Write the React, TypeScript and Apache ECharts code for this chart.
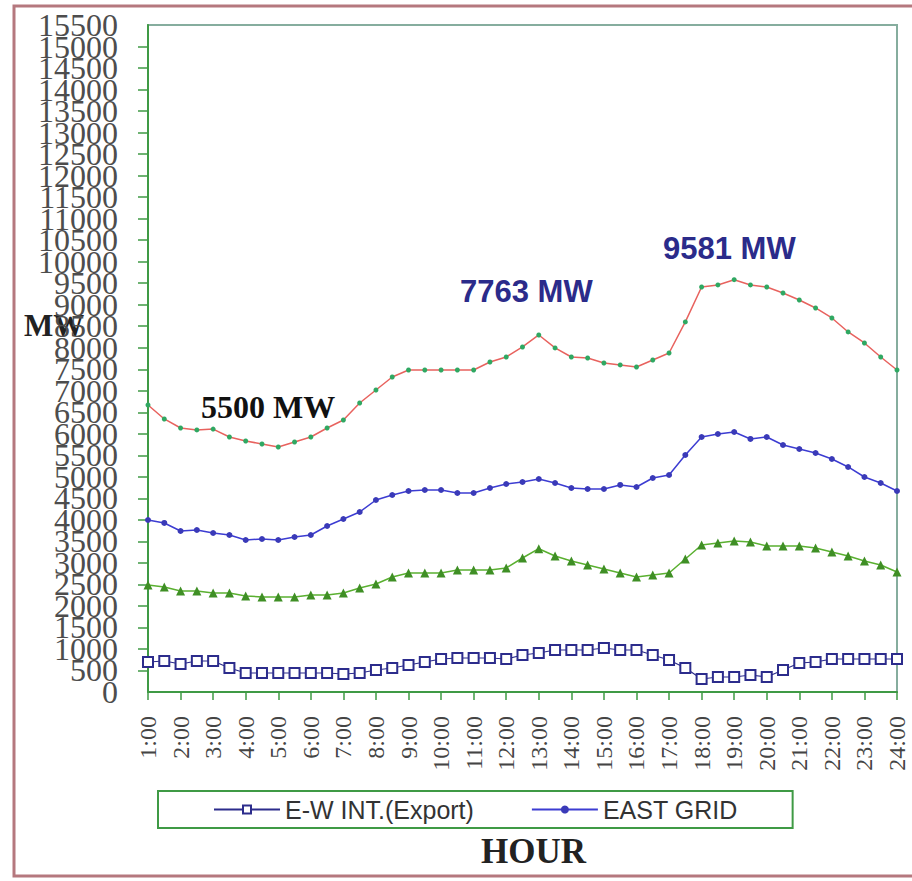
import React, { useEffect, useRef } from "react";
import * as echarts from "echarts";

// Half-hourly time slots, 1:00 .. 24:00
const hours: string[] = [];
for (let h = 1; h <= 24; h++) {
  hours.push(`${h}:00`);
  if (h < 24) hours.push(`${h}:30`);
}

// Total demand (MW)
const totalDemand = [
  6670, 6345, 6135, 6090, 6110, 5926, 5833, 5764, 5694, 5810, 5926, 6135, 6320,
  6716, 7018, 7320, 7483, 7483, 7483, 7483, 7483, 7669, 7785, 8018, 8297,
  7995, 7785, 7762, 7646, 7600, 7553, 7716, 7878, 8600, 9412, 9459, 9581,
  9459, 9412, 9273, 9110, 8924, 8692, 8367, 8111, 7785, 7483,
];

// EAST GRID (MW)
const eastGrid = [
  3997, 3928, 3742, 3765, 3695, 3649, 3532, 3556, 3532, 3602, 3649, 3858, 4020,
  4183, 4462, 4578, 4671, 4694, 4694, 4625, 4625, 4741, 4834, 4880, 4950,
  4857, 4741, 4718, 4718, 4811, 4764, 4973, 5043, 5508, 5926, 5996, 6042,
  5880, 5926, 5740, 5647, 5554, 5415, 5229, 4996, 4857, 4671,
];

// Generation (MW)
const generation = [
  2487, 2440, 2347, 2347, 2300, 2300, 2231, 2208, 2208, 2208, 2254, 2254, 2300,
  2417, 2510, 2673, 2766, 2766, 2766, 2835, 2835, 2835, 2882, 3114, 3330,
  3161, 3044, 2951, 2858, 2766, 2673, 2719, 2766, 3091, 3416, 3463, 3509,
  3486, 3393, 3393, 3393, 3347, 3254, 3161, 3044, 2951, 2789,
];

// E-W INT.(Export) (MW)
const ewExport = [
  697, 720, 650, 720, 720, 558, 442, 442, 442, 442, 442, 442, 418,
  442, 511, 558, 627, 697, 767, 790, 790, 790, 767, 860, 906,
  976, 976, 976, 1022, 976, 976, 860, 744, 558, 302, 349, 349,
  395, 349, 511, 674, 697, 767, 767, 767, 767, 767,
];

const Y_MIN = 0;
const Y_MAX = 15500;
const Y_STEP = 500;

const GREEN_AXIS = "#3f9a45";

const yLabelStyle = {
  margin: 30,
  fontFamily: "Liberation Serif, Times New Roman, serif",
  fontSize: 32,
  color: "#4d4d4d",
};

export default function App() {
  const ref = useRef<HTMLDivElement>(null);

  useEffect(() => {
    if (!ref.current) return;
    const chart = echarts.init(ref.current, undefined, { renderer: "svg" });
    chart.setOption({
      animation: false,
      backgroundColor: "#ffffff",
      grid: {
        left: 148,
        right: 15,
        top: 25,
        bottom: 189,
        show: true,
        borderColor: "#86ad9e",
        borderWidth: 2,
        backgroundColor: "transparent",
      },
      legend: {
        data: ["E-W INT.(Export)", "EAST GRID"],
        left: 158,
        top: 791,
        width: 690,
        height: 38,
        padding: [6, 55, 6, 55],
        itemGap: 57,
        itemWidth: 66,
        itemHeight: 10,
        borderColor: "#3f9a45",
        borderWidth: 2,
        textStyle: {
          fontFamily: "Liberation Sans, Arial, sans-serif",
          fontSize: 25,
          color: "#333333",
        },
      },
      xAxis: {
        type: "category",
        data: hours,
        boundaryGap: false,
        axisLine: { lineStyle: { color: GREEN_AXIS, width: 2 } },
        axisTick: { interval: 1, length: 8, lineStyle: { color: GREEN_AXIS, width: 1.5 } },
        axisLabel: {
          interval: 1,
          rotate: 90,
          margin: 24,
          fontFamily: "Liberation Serif, Times New Roman, serif",
          fontSize: 24,
          color: "#444444",
        },
        splitLine: { show: false },
      },
      yAxis: [
        {
          // main value axis: line, ticks and the inner tick labels
          type: "value",
          min: Y_MIN,
          max: Y_MAX,
          interval: Y_STEP,
          position: "left",
          axisLine: { show: true, lineStyle: { color: GREEN_AXIS, width: 2 } },
          axisTick: { show: true, length: 10, lineStyle: { color: GREEN_AXIS, width: 1.5 } },
          axisLabel: {
            ...yLabelStyle,
            showMinLabel: false,
            showMaxLabel: false,
            formatter: (v: number) => String(v),
          },
          splitLine: { show: false },
        },
        {
          // companion axis on the same scale carrying the end labels (0 and 15500)
          type: "value",
          min: Y_MIN,
          max: Y_MAX,
          interval: Y_STEP,
          position: "left",
          offset: 0,
          axisLine: { show: false },
          axisTick: { show: false },
          axisLabel: {
            ...yLabelStyle,
            showMinLabel: true,
            showMaxLabel: true,
            formatter: (v: number) => (v === Y_MIN || v === Y_MAX ? String(v) : ""),
          },
          splitLine: { show: false },
        },
      ],
      graphic: [
        {
          type: "rect",
          shape: { x: 14, y: 6, width: 920, height: 870 },
          style: { fill: "none", stroke: "#b5787e", lineWidth: 3 },
          silent: true,
        },
        {
          type: "text",
          left: 24,
          top: 310,
          style: {
            text: "MW",
            font: "bold 31px 'Liberation Serif', 'Times New Roman', serif",
            fill: "#222222",
          },
        },
        {
          type: "text",
          left: 481,
          top: 834,
          style: {
            text: "HOUR",
            font: "bold 35px 'Liberation Serif', 'Times New Roman', serif",
            fill: "#222222",
          },
        },
        {
          type: "text",
          left: 201,
          top: 391,
          style: {
            text: "5500 MW",
            font: "bold 32px 'Liberation Serif', 'Times New Roman', serif",
            fill: "#111111",
          },
        },
        {
          type: "text",
          left: 460,
          top: 276,
          style: {
            text: "7763 MW",
            font: "bold 31px 'Liberation Sans', Arial, sans-serif",
            fill: "#2b2b8a",
          },
        },
        {
          type: "text",
          left: 663,
          top: 233,
          style: {
            text: "9581 MW",
            font: "bold 31px 'Liberation Sans', Arial, sans-serif",
            fill: "#2b2b8a",
          },
        },
      ],
      series: [
        {
          name: "TOTAL DEMAND",
          type: "line",
          data: totalDemand,
          symbol: "circle",
          symbolSize: 5,
          lineStyle: { color: "#e8625e", width: 1.5 },
          itemStyle: { color: "#2fa862" },
          z: 3,
        },
        {
          name: "EAST GRID",
          type: "line",
          data: eastGrid,
          symbol: "circle",
          symbolSize: 6,
          lineStyle: { color: "#3c3cd2", width: 1.5 },
          itemStyle: { color: "#3a3ab8" },
          z: 3,
        },
        {
          name: "GENERATION",
          type: "line",
          data: generation,
          symbol: "triangle",
          symbolSize: 9,
          lineStyle: { color: "#5ab030", width: 1.5 },
          itemStyle: { color: "#3f8f25" },
          z: 3,
        },
        {
          name: "E-W INT.(Export)",
          type: "line",
          data: ewExport,
          symbol: "emptyRect",
          symbolSize: 10,
          lineStyle: { color: "#2c2c8c", width: 1.2 },
          itemStyle: { color: "#2c2c8c", borderWidth: 2 },
          z: 3,
        },
      ],
    });
    return () => chart.dispose();
  }, []);

  return (
    <div
      ref={ref}
      style={{ position: "absolute", left: 0, top: 0, width: 912, height: 881 }}
    />
  );
}
